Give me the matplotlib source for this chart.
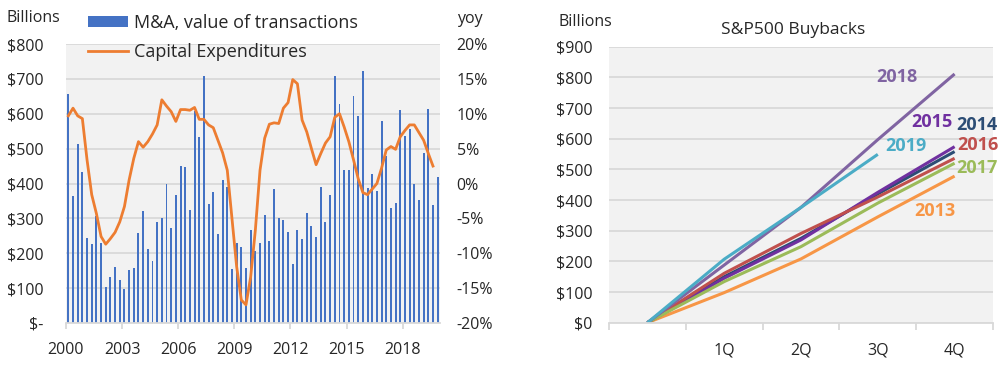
import matplotlib
matplotlib.use("Agg")
import matplotlib.pyplot as plt
import numpy as np

plt.rcParams['font.family'] = ['Open Sans', 'DejaVu Sans']

# M&A, value of transactions, quarterly 2000Q1..2019Q4 ($bn)
mna = [658, 365, 513, 434, 244, 227, 308, 230, 102, 131, 162, 123, 97, 153, 159, 257,
       322, 213, 177, 291, 302, 399, 273, 366, 449, 446, 325, 608, 534, 709, 342, 376,
       254, 410, 389, 156, 229, 219, 159, 268, 206, 229, 309, 236, 385, 302, 295, 262,
       168, 268, 242, 316, 279, 248, 391, 291, 368, 709, 628, 439, 439, 651, 594, 722,
       388, 428, 379, 579, 479, 331, 345, 611, 536, 556, 399, 353, 488, 614, 338, 418]

# capital expenditures, yoy %, 2000Q1..2019Q3
capex = [9.7, 10.8, 9.7, 9.3, 3.4, -1.6, -4.3, -7.6, -8.7, -7.9, -7.0, -5.5, -3.3, 0.5, 3.6, 6.0,
         5.2, 6.0, 7.1, 8.4, 12.0, 11.1, 10.3, 8.9, 10.6, 10.6, 10.5, 10.9, 9.2, 9.2, 8.4, 8.0,
         6.2, 4.4, 1.9, -5.0, -11.9, -16.7, -17.4, -13.4, -6.7, 1.9, 6.5, 8.5, 8.7, 8.6, 10.8, 11.6,
         14.9, 14.3, 9.1, 7.4, 5.0, 2.7, 4.3, 5.8, 6.7, 9.5, 10.0, 8.1, 6.0, 3.4, 0.7, -1.3,
         -1.6, -0.8, 0.0, 2.2, 4.8, 5.3, 4.9, 6.7, 7.6, 8.4, 8.4, 7.3, 6.2, 4.3, 2.5]

year_labels = ['2000', '2003', '2006', '2009', '2012', '2015', '2018']

# S&P500 buybacks, cumulative by quarter ($bn)
quarters = ['', '1Q', '2Q', '3Q', '4Q']
buybacks = {
    '2013': [0, 98, 208, 345, 478],
    '2014': [0, 150, 275, 420, 558],
    '2015': [0, 145, 270, 425, 574],
    '2016': [0, 161, 291, 410, 536],
    '2017': [0, 134, 248, 390, 520],
    '2018': [0, 188, 376, 597, 811],
    '2019': [0, 207, 376, 549],
}
colors = {'2013': '#F79646', '2014': '#2C4D75', '2015': '#7030A0', '2016': '#C0504D',
          '2017': '#9BBB59', '2018': '#8064A2', '2019': '#4BACC6'}
label_pos = {'2013': (3.74, 365), '2014': (4.29, 645), '2015': (3.70, 655),
             '2016': (4.31, 579), '2017': (4.29, 503), '2018': (3.25, 802),
             '2019': (3.36, 576)}

grid_c = '#D9D9D9'
txt_c = '#262626'

fig = plt.figure(figsize=(10.08, 3.88), dpi=100)

# ---- left chart
ax = fig.add_axes([66/1008, 1-323/388, 374/1008, 279/388])
ax.set_facecolor('#F2F2F2')
ax.set_axisbelow(True)
xb = np.arange(len(mna)) + 0.5
bars = ax.bar(xb, mna, width=0.42, color='#4472C4', label='M&A, value of transactions')
ax.set_xlim(0, len(mna))
ax.set_ylim(0, 800)
ax.set_yticks(np.arange(0, 801, 100))
ax.set_yticklabels(['$-'] + ['$%d' % v for v in range(100, 801, 100)])
ax.yaxis.grid(True, color=grid_c, lw=1.3)
ax.set_xticks(np.arange(0, 73, 12))
ax.set_xticklabels(year_labels)
ax.tick_params(axis='x', length=4, color=grid_c, width=1.3, pad=10, labelsize=11.5, labelcolor=txt_c)
ax.tick_params(axis='y', length=0, pad=16, labelsize=11.5, labelcolor=txt_c)
for s in ['top', 'left', 'right']:
    ax.spines[s].set_visible(False)
ax.spines['bottom'].set_color(grid_c)
ax.spines['bottom'].set_linewidth(1.3)

ax2 = ax.twinx()
line, = ax2.plot(np.arange(len(capex)) + 0.5, capex, color='#ED7D31', lw=2.0,
                 label='Capital Expenditures')
ax2.set_ylim(-20, 20)
ax2.set_yticks(np.arange(-20, 21, 5))
ax2.set_yticklabels(['%d%%' % v for v in range(-20, 21, 5)])
ax2.tick_params(axis='y', length=0, pad=12, labelsize=11.5, labelcolor=txt_c)
for s in ax2.spines.values():
    s.set_visible(False)

fig.legend([bars, line], ['M&A, value of transactions', 'Capital Expenditures'],
           loc='center left', bbox_to_anchor=(88/1008, 1-37.5/388), frameon=False,
           fontsize=13, handlelength=2.2, handleheight=0.6, handletextpad=0.35,
           labelspacing=0.65, borderpad=0, borderaxespad=0, labelcolor=txt_c)

fig.text(33/1008, 1-18/388, 'Billions', ha='center', va='center', fontsize=11.5, color=txt_c)
fig.text(457/1008, 1-19/388, 'yoy', ha='left', va='center', fontsize=11.5, color=txt_c)

# ---- right chart
bx = fig.add_axes([609/1008, 1-322.7/388, 384/1008, 276/388])
bx.set_facecolor('#F2F2F2')
bx.set_axisbelow(True)
for yr, vals in buybacks.items():
    bx.plot(range(len(vals)), vals, color=colors[yr], lw=2.2, solid_capstyle='butt')
    lx, ly = label_pos[yr]
    bx.text(lx, ly, yr, color=colors[yr], fontsize=13, fontweight='bold',
            ha='center', va='center')
bx.set_xlim(-0.5, 4.5)
bx.set_ylim(0, 900)
bx.set_yticks(np.arange(0, 901, 100))
bx.set_yticklabels(['$%d' % v for v in range(0, 901, 100)])
bx.yaxis.grid(True, color=grid_c, lw=1.3)
bx.set_xticks(range(len(quarters)))
bx.set_xticklabels(quarters)
bx.set_xticks(np.arange(-0.5, 4.6, 1), minor=True)
bx.tick_params(axis='x', which='major', length=0, pad=14, labelsize=11.5, labelcolor=txt_c)
bx.tick_params(axis='x', which='minor', length=5, color=grid_c, width=1.3)
bx.tick_params(axis='y', length=0, pad=12, labelsize=11.5, labelcolor=txt_c)
for s in ['top', 'left', 'right']:
    bx.spines[s].set_visible(False)
bx.spines['bottom'].set_color(grid_c)
bx.spines['bottom'].set_linewidth(1.3)
bx.set_title('S&P500 Buybacks', fontsize=12.5, color=txt_c, pad=9, x=0.48)

fig.text(585/1008, 1-22.5/388, 'Billions', ha='center', va='center', fontsize=11.5, color=txt_c)

fig.savefig('out.png', dpi=100, facecolor='white')
